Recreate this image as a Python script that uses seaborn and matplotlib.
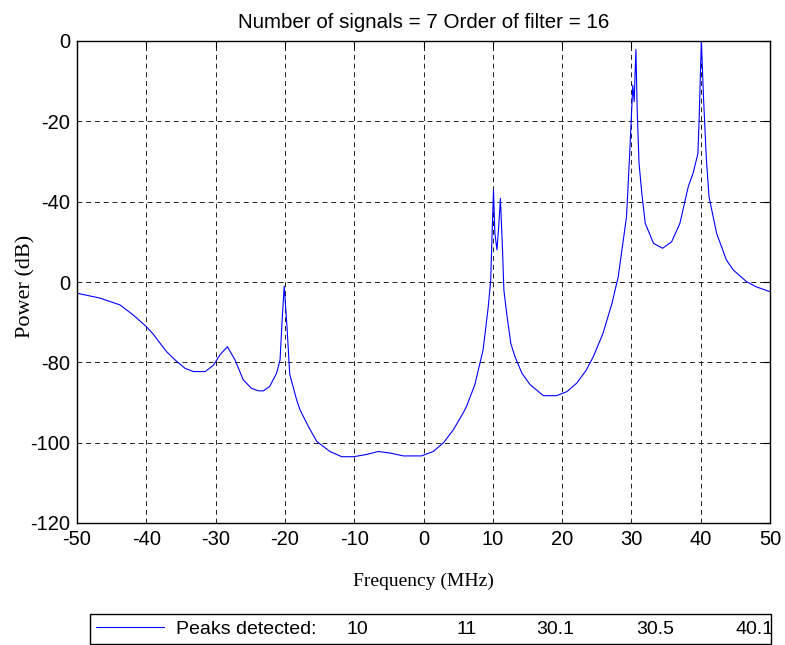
import numpy as np
import pandas as pd
import matplotlib
matplotlib.use("Agg")
import matplotlib.pyplot as plt
from matplotlib.lines import Line2D
import seaborn as sns

# Power spectrum estimate (dB) versus frequency (MHz)
freq = [-50, -46.7, -43.8, -41.9, -40, -39, -37.1, -35.6, -34.4, -33.2, -31.5,
        -30.3, -29.4, -28.3, -27.2, -26.0, -24.8, -23.8, -23.1, -22.2, -21.2,
        -20.7, -20.4, -20.1, -19.7, -19.3, -18.3, -17.8, -16.6, -15.4, -13.5,
        -11.8, -10.1, -8.4, -6.5, -4.8, -2.9, -0.3, 1.4, 2.9, 4.3, 5.7, 6.2,
        7.4, 8.6, 9.35, 9.7, 9.9, 10.1, 10.3, 10.6, 10.85, 11.1, 11.4, 11.6,
        12.0, 12.6, 13.2, 14.2, 15.4, 17.3, 19.2, 20.7, 22.1, 23.5, 24.5, 25.9,
        27.2, 28.1, 28.7, 29.3, 29.8, 30.2, 30.4, 30.65, 30.85, 31.1, 31.5,
        32.0, 33.2, 34.5, 35.8, 37.0, 38.2, 38.9, 39.6, 39.8, 40.0, 40.1, 40.4,
        40.8, 41.2, 42.3, 43.7, 44.7, 46.6, 48.0, 50]
power = [-62.8, -64.0, -65.7, -68.2, -71.1, -73.0, -77.3, -79.8, -81.5, -82.3,
         -82.3, -80.7, -78.2, -76.1, -79.4, -84.4, -86.5, -87.1, -87.1, -86.0,
         -82.7, -79.4, -69.5, -61.0, -71.1, -83.0, -89.4, -91.9, -96.0, -99.7,
         -102.2, -103.5, -103.5, -103.0, -102.2, -102.6, -103.3, -103.3,
         -102.2, -100.0, -96.8, -92.7, -91.0, -85.6, -76.9, -66.1, -59.5,
         -47.9, -37.1, -47.9, -52.0, -46.2, -39.2, -52.0, -62.0, -67.8, -75.3,
         -78.6, -82.7, -85.6, -88.3, -88.3, -87.3, -85.2, -81.9, -78.6, -72.8,
         -65.3, -58.7, -51.2, -43.7, -26.3, -11.0, -15.1, -2.1, -18.0, -30.4,
         -37.9, -45.4, -50.4, -51.6, -50.0, -45.4, -36.3, -32.9, -28.0, -18.0,
         -5.5, 0.0, -13.9, -28.8, -38.8, -47.9, -54.5, -57.0, -59.9, -61.2,
         -62.4]

peaks = [10, 11, 30.1, 30.5, 40.1]
n_signals = 7
filter_order = 16

x_ticks = [-50, -40, -30, -20, -10, 0, 10, 20, 30, 40, 50]
y_ticks = [0, -20, -40, -60, -80, -100, -120]
y_tick_labels = ["0", "-20", "-40", "0", "-80", "-100", "-120"]

W, H = 785, 645
sns.set_theme(style="white")
plt.rcParams["font.family"] = ["Liberation Sans", "DejaVu Sans"]

df = pd.DataFrame({"Frequency": freq, "Power": power})

fig = plt.figure(figsize=(W / 100, H / 100), dpi=100)
ax = fig.add_axes([77 / W, 1 - 523 / H, (770 - 77) / W, (523 - 41) / H])

sns.lineplot(data=df, x="Frequency", y="Power", ax=ax, color="#0000ff",
             linewidth=0.8, estimator=None, sort=True, legend=False)

ax.set_xlim(-50, 50)
ax.set_ylim(-120, 0)
ax.set_xticks(x_ticks)
ax.set_xticklabels([str(v) for v in x_ticks])
ax.set_yticks(y_ticks)
ax.set_yticklabels(y_tick_labels)

ax.grid(True, color="#222222", linestyle=(0, (5, 4)), linewidth=0.7)
for s in ax.spines.values():
    s.set_visible(True)
    s.set_color("black")
    s.set_linewidth(1.0)
ax.tick_params(axis="both", which="major", direction="in", length=5, width=0.8,
               labelsize=14.5, colors="black", top=True, right=True, pad=5)

ax.set_title(f"Number of signals = {n_signals} Order of filter = {filter_order}",
             fontsize=14.8, color="black", pad=9)
ax.set_xlabel("Frequency (MHz)", fontsize=14, family="Liberation Serif",
              color="black", labelpad=17)
ax.set_ylabel("Power (dB)", fontsize=16, family="Liberation Serif",
              color="black")
ax.yaxis.set_label_coords(-0.06, 0.49)

# Legend box with the detected peak frequencies listed after the entry
handle = Line2D([], [], color="#0000ff", linewidth=0.8)
leg = fig.legend([handle], ["Peaks detected:"], loc="lower left",
                 bbox_to_anchor=(90 / W, 1 / H, 681 / W, 34 / H),
                 mode="expand", borderaxespad=0, fontsize=14, frameon=True,
                 fancybox=False, framealpha=1.0, handlelength=3.5,
                 handletextpad=0.6, borderpad=0.32, labelcolor="black")
leg.get_frame().set_edgecolor("black")
leg.get_frame().set_linewidth(1.0)
leg.get_frame().set_facecolor("white")

fig.canvas.draw()
renderer = fig.canvas.get_renderer()
label_box = leg.get_texts()[0].get_window_extent(renderer)
peak_col_x = [346, 457, 536, 636, 735]
for px, p in zip(peak_col_x, peaks):
    fig.text(px / W, label_box.y0 / H, f"{p:g}", ha="left", va="bottom",
             fontsize=14, color="black", zorder=10)

fig.savefig("out.png", dpi=100)
